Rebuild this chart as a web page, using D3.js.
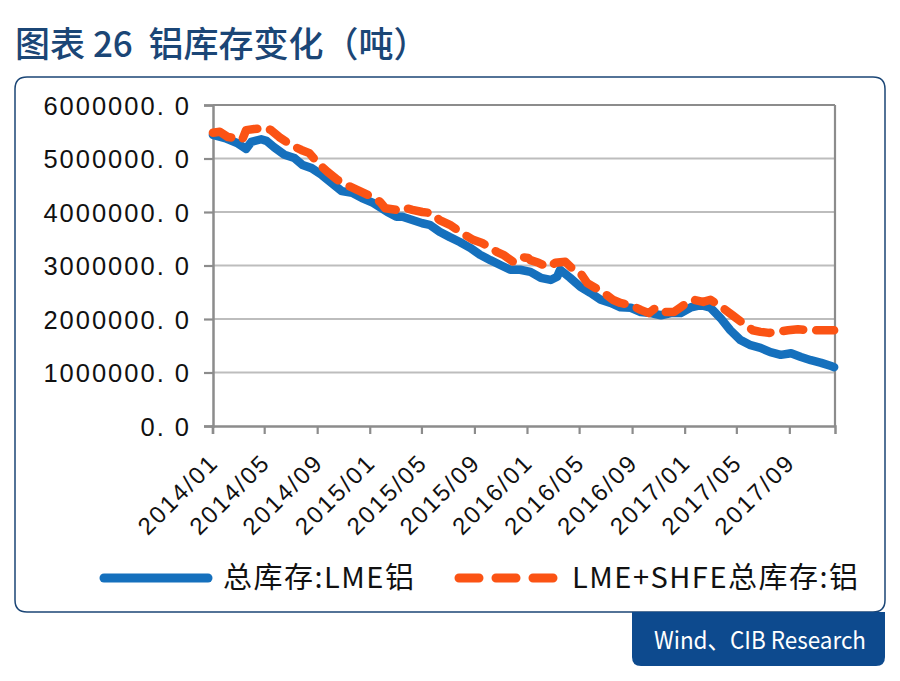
<!DOCTYPE html>
<html><head><meta charset="utf-8">
<script src="https://cdn.jsdelivr.net/npm/d3@7"></script>
<style>body{margin:0;background:#fff} svg{display:block}</style>
</head><body>
<svg id="c" width="900" height="681"></svg>
<script>
// ---- data ----
const lmeDates = ["2014-01-02","2014-01-30","2014-02-27","2014-03-20","2014-04-01","2014-04-24","2014-05-06","2014-05-24","2014-06-17","2014-07-10","2014-07-29","2014-08-19","2014-09-12","2014-10-05","2014-10-28","2014-11-21","2014-12-14","2015-01-09","2015-02-11","2015-03-04","2015-03-18","2015-04-10","2015-05-03","2015-05-20","2015-06-12","2015-07-06","2015-07-29","2015-08-22","2015-09-14","2015-10-08","2015-10-31","2015-11-23","2015-12-16","2016-01-09","2016-02-02","2016-02-25","2016-03-11","2016-03-18","2016-04-10","2016-05-04","2016-05-27","2016-06-20","2016-07-13","2016-08-05","2016-08-29","2016-09-21","2016-10-14","2016-11-07","2016-11-30","2016-12-23","2017-01-16","2017-02-08","2017-03-02","2017-03-25","2017-04-17","2017-05-10","2017-06-03","2017-06-26","2017-07-19","2017-08-12","2017-09-05","2017-09-28","2017-10-21","2017-11-14","2017-12-07","2017-12-14"];
const lmeValues = [5440000,5380000,5290000,5180000,5310000,5360000,5330000,5210000,5070000,5010000,4880000,4820000,4690000,4540000,4390000,4360000,4260000,4170000,4000000,3910000,3910000,3850000,3790000,3760000,3630000,3530000,3440000,3330000,3200000,3100000,3010000,2920000,2920000,2880000,2770000,2730000,2790000,2920000,2770000,2600000,2490000,2360000,2300000,2220000,2210000,2130000,2110000,2070000,2110000,2110000,2220000,2260000,2210000,2020000,1790000,1610000,1510000,1460000,1380000,1330000,1360000,1290000,1230000,1180000,1120000,1100000];

const totalDates = ["2014-01-02","2014-01-18","2014-02-06","2014-03-01","2014-03-11","2014-03-20","2014-04-08","2014-05-06","2014-05-17","2014-06-05","2014-07-03","2014-07-26","2014-08-14","2014-09-02","2014-09-25","2014-10-18","2014-11-09","2014-12-04","2015-01-02","2015-01-25","2015-02-06","2015-03-04","2015-03-18","2015-04-10","2015-05-03","2015-05-24","2015-06-12","2015-07-06","2015-07-17","2015-08-10","2015-08-29","2015-09-19","2015-10-08","2015-10-24","2015-11-07","2015-11-30","2015-12-16","2016-01-04","2016-01-09","2016-01-28","2016-02-18","2016-03-07","2016-03-30","2016-04-18","2016-05-04","2016-05-20","2016-06-08","2016-06-27","2016-07-18","2016-08-05","2016-08-29","2016-09-21","2016-10-10","2016-10-26","2016-11-14","2016-12-07","2016-12-23","2017-01-09","2017-01-21","2017-02-13","2017-03-02","2017-03-30","2017-04-22","2017-05-15","2017-06-08","2017-06-26","2017-07-15","2017-08-05","2017-08-29","2017-09-21","2017-10-14","2017-11-07","2017-12-14"];
const totalValues = [5480000,5500000,5400000,5380000,5350000,5530000,5550000,5570000,5530000,5400000,5250000,5160000,5100000,4920000,4750000,4600000,4500000,4410000,4300000,4190000,4070000,4040000,4090000,4040000,4000000,3980000,3850000,3760000,3700000,3570000,3480000,3420000,3330000,3250000,3200000,3070000,3160000,3140000,3100000,3050000,2970000,3050000,3070000,2920000,2860000,2670000,2580000,2490000,2360000,2300000,2260000,2170000,2110000,2210000,2130000,2130000,2220000,2320000,2360000,2320000,2360000,2210000,2070000,1930000,1790000,1760000,1740000,1760000,1790000,1810000,1790000,1790000,1790000];

const yTickValues = [0,1000000,2000000,3000000,4000000,5000000,6000000];
const seriesNames = ["总库存:LME铝","LME+SHFE总库存:铝"];
const titleText = "图表 26  铝库存变化（吨）";
const sourceText = "Wind、CIB Research";

// ---- drawing ----
const svg = d3.select("#c");
const parse = d3.timeParse("%Y-%m-%d");
const blue = "#1570bd", orange = "#fb5314", navy = "#1b4676";

const lme = lmeDates.map((d,i)=>({date:parse(d), value:lmeValues[i]}));
const total = totalDates.map((d,i)=>({date:parse(d), value:totalValues[i]}));

const x = d3.scaleTime().domain([new Date(2014,0,1), new Date(2017,11,16)]).range([212.5, 835]);
const y = d3.scaleLinear().domain([0,6000000]).range([426,105]);

// title
svg.append("text").attr("x",15).attr("y",57)
  .attr("font-family","'Noto Sans CJK SC'").attr("font-size",35).attr("font-weight",500)
  .attr("fill",navy).attr("xml:space","preserve").text(titleText);

// card
svg.append("path")
  .attr("d","M27,77 H873 Q885,77 885,89 V600 Q885,612 873,612 H27 Q15,612 15,600 V89 Q15,77 27,77 Z")
  .attr("fill","none").attr("stroke",navy).attr("stroke-width",1.5);

// source box
svg.append("path")
  .attr("d","M632,612 H885 V657 Q885,666 876,666 H641 Q632,666 632,657 Z")
  .attr("fill","#0d4a8e");
svg.append("text").attr("x",760).attr("y",649).attr("text-anchor","middle")
  .attr("font-family","'Noto Sans CJK SC'").attr("font-size",24)
  .attr("textLength",212).attr("lengthAdjust","spacingAndGlyphs")
  .attr("fill","#fff").text(sourceText);

// gridlines
svg.append("g").selectAll("line").data(yTickValues.filter(v=>v>0)).join("line")
  .attr("x1",213).attr("x2",835).attr("y1",d=>y(d)).attr("y2",d=>y(d))
  .attr("stroke",d=>d===6000000?"#8c8c8c":"#bdbdbd").attr("stroke-width",2.2);
// right border
svg.append("line").attr("x1",835).attr("x2",835).attr("y1",y(6000000)).attr("y2",y(0))
  .attr("stroke","#8c8c8c").attr("stroke-width",2.2);

// y axis
const yAxis = svg.append("g").attr("transform","translate(213,0)")
  .call(d3.axisLeft(y).tickValues(yTickValues).tickSize(9).tickPadding(14)
    .tickFormat(d=>d3.format(".1f")(d).replace(".",". ")));
yAxis.select(".domain").attr("stroke","#8c8c8c").attr("stroke-width",2.5);
yAxis.selectAll(".tick line").attr("stroke","#8c8c8c").attr("stroke-width",2.2);
yAxis.selectAll(".tick text").attr("font-family","'Liberation Sans', Arial").attr("font-size",25.5)
  .attr("letter-spacing",2).attr("fill","#111").attr("dy","0.36em").attr("x",-22);

// x axis
const xAxis = svg.append("g").attr("transform","translate(0,426)")
  .call(d3.axisBottom(x).ticks(d3.timeMonth.every(4)).tickSize(8).tickFormat(d3.timeFormat("%Y/%m")));
xAxis.select(".domain").attr("stroke","#8c8c8c").attr("stroke-width",2.5);
xAxis.selectAll(".tick line").attr("stroke","#8c8c8c").attr("stroke-width",2.2);
xAxis.selectAll(".tick text").attr("font-family","'Liberation Sans', Arial").attr("font-size",24)
  .attr("letter-spacing",2.2).attr("fill","#111").attr("text-anchor","end")
  .attr("y",0).attr("dy",0).attr("transform","translate(7,38) rotate(-45)");

// lines
const line = d3.line().x(d=>x(d.date)).y(d=>y(d.value));
svg.append("path").datum(lme).attr("d",line).attr("fill","none")
  .attr("stroke",blue).attr("stroke-width",8.5).attr("stroke-linejoin","round").attr("stroke-linecap","round");
svg.append("path").datum(total).attr("d",line).attr("fill","none")
  .attr("stroke",orange).attr("stroke-width",8.5).attr("stroke-linejoin","round").attr("stroke-linecap","round")
  .attr("stroke-dasharray","20 13");

// legend
const lg = svg.append("g").attr("font-family","'Noto Sans CJK SC'").attr("font-size",29).attr("fill","#111");
lg.append("line").attr("x1",104).attr("x2",208).attr("y1",578).attr("y2",578)
  .attr("stroke",blue).attr("stroke-width",9).attr("stroke-linecap","round");
lg.append("text").attr("x",223).attr("y",588).attr("letter-spacing",1.5).text(seriesNames[0]);
lg.append("line").attr("x1",459).attr("x2",553).attr("y1",578).attr("y2",578)
  .attr("stroke",orange).attr("stroke-width",9).attr("stroke-linecap","round").attr("stroke-dasharray","20 17");
lg.append("text").attr("x",572).attr("y",588).attr("letter-spacing",1.5).text(seriesNames[1]);
</script>
</body></html>
